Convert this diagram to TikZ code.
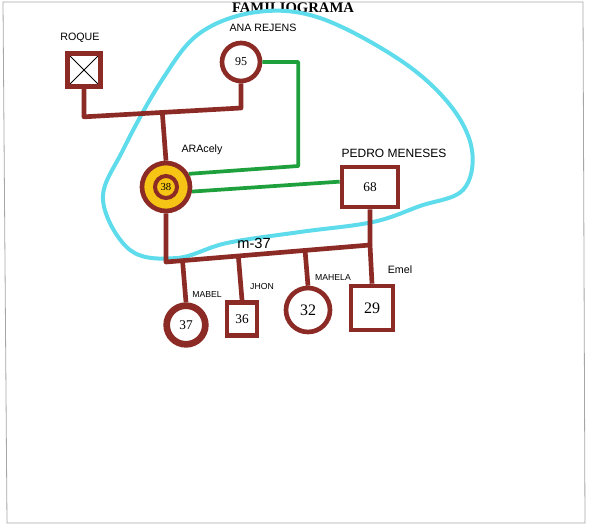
\documentclass[tikz,border=0pt]{standalone}
\usepackage{fontspec}
\setmainfont{Liberation Serif}
\setsansfont{Liberation Sans}
\usetikzlibrary{calc}

\definecolor{vino}{RGB}{140,42,38}
\definecolor{oro}{RGB}{245,196,20}
\definecolor{verde}{RGB}{30,160,60}
\definecolor{celeste}{RGB}{95,220,235}

\begin{document}
\begin{tikzpicture}[x=0.75pt, y=-0.75pt,
        hombre/.style={rectangle, draw=vino, line width=3.5pt, inner sep=0pt, fill=white},
        mujer/.style={circle, draw=vino, line width=3.5pt, inner sep=0pt, fill=white},
        nombre/.style={font=\sffamily\fontsize{8}{9}\selectfont},
        nombrep/.style={font=\sffamily\fontsize{6.5}{7}\selectfont},
        linea/.style={draw=vino, line width=3.5pt, line join=round},
        relacion/.style={draw=verde, line width=2.8pt, line join=round},
        ]

      \useasboundingbox (0,0) rectangle (594,525);
      \draw[gray!70, line width=0.6pt] (3,2) -- (583,2) -- (585,523) -- (7,523) -- cycle;

      \node[font=\bfseries\fontsize{11}{12}\selectfont] (titulo) at (293,8) {FAMILIOGRAMA};

      % limite
      \draw[celeste, line width=3pt] plot[smooth cycle, tension=0.6] coordinates {
        (162,80) (200,33) (257,12) (320,18) (400,60) (450,105) (472,150) (463,190)
        (420,206) (373,222) (300,232) (227,243) (177,258) (130,250) (103,200) (123,150)};

      % abuelos
      \node[hombre, minimum size=24.75pt, path picture={
          \draw[black, line width=0.6pt] (path picture bounding box.north west) -- (path picture bounding box.south east)
            (path picture bounding box.north east) -- (path picture bounding box.south west);}] (roque) at (84,70) {};
      \node[mujer, minimum size=28.5pt, font=\fontsize{9}{10}\selectfont] (ana) at (241,62) {95};

      \node[nombre] (roquet) at (80,38) {ROQUE};
      \node[nombre] (anat) at (263,28) {ANA REJENS};

      \coordinate (pa) at (87,120);
      \coordinate (pb) at (245,108);
      \draw[linea] (roque.south) -- ++(0,28) -- (ana.south |- pb) -- (ana.south);

      % padres
      \node[mujer, fill=oro, minimum size=36pt] (arecely) at (166,187) {};
      \node[mujer, fill=oro, line width=3pt, minimum size=16.5pt, font=\fontsize{8}{9}\selectfont] (arecelyin) at (166,187) {38};
      \node[hombre, minimum width=42pt, minimum height=30pt, font=\fontsize{10}{11}\selectfont] (pedro) at (370,187) {68};

      \node[nombre] (arecelyt) at (202,150) {ARAcely};
      \node[nombre, font=\sffamily\fontsize{9}{10}\selectfont] (pedrot) at (394,153) {PEDRO MENESES};

      \draw[linea] ($(roque.south |- pa)!(arecely.north)!(ana.south |- pb)$) -- (arecely.north);

      \draw[relacion] (ana.east) -- ++(36,0) -- ++(0,104) -- (arecely.30);
      \draw[relacion] (arecely.-10) -- (pedro.170);

      % hijos
      \coordinate (ca) at (166,262);
      \coordinate (cb) at (370,245);
      \draw[linea] (arecely.south) -- (ca) -- (cb) -- (pedro.south);
      \node[font=\sffamily\fontsize{11}{12}\selectfont] (mt) at (254,243) {m-37};

      \node[mujer, line width=5pt, minimum size=29pt, font=\fontsize{10}{11}\selectfont] (mabel) at (186,325) {37};
      \node[hombre, minimum width=22.5pt, minimum height=25pt, font=\fontsize{10}{11}\selectfont] (jhon) at (242,319) {36};
      \node[mujer, minimum size=33pt, font=\fontsize{12}{13}\selectfont] (mahela) at (308,310) {32};
      \node[hombre, minimum width=31.5pt, minimum height=33pt, font=\fontsize{12}{13}\selectfont] (emel) at (372,308) {29};

      \node[nombrep] (mabelt) at (207,295) {MABEL};
      \node[nombrep] (jhont) at (262,287) {JHON};
      \node[nombrep] (mahelat) at (333,278) {MAHELA};
      \node[nombre] (emelt) at (400,270) {Emel};

      \draw[linea] (mabel.north) -- ($(ca)!(mabel.north)!(cb)$);
      \draw[linea] (jhon.north) -- ($(ca)!(jhon.north)!(cb)$);
      \draw[linea] (mahela.north) -- ($(ca)!(mahela.north)!(cb)$);
      \draw[linea] (emel.north) -- (cb);
    \end{tikzpicture}
\end{document}
